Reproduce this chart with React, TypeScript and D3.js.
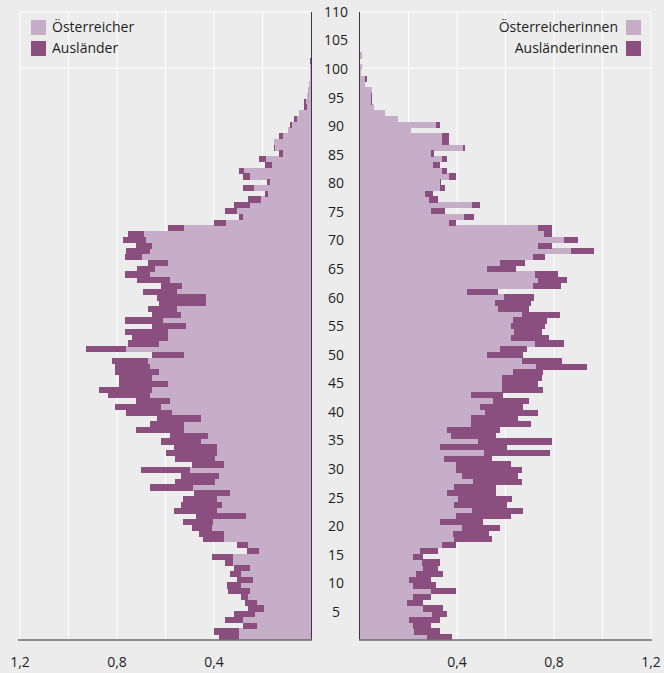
import { useEffect, useRef } from 'react';
import * as d3 from 'd3';

// share of population in %, by single year of age (index = age)
const maleAut = [
  0.297, 0.297, 0.223, 0.282, 0.231, 0.192, 0.223, 0.260, 0.252, 0.289,
  0.238, 0.289, 0.252, 0.320, 0.320, 0.214, 0.261, 0.359, 0.359, 0.410,
  0.405, 0.268, 0.389, 0.366, 0.389, 0.334, 0.485, 0.396, 0.381, 0.500,
  0.359, 0.396, 0.388, 0.388, 0.455, 0.426, 0.522, 0.524, 0.455, 0.575,
  0.620, 0.581, 0.664, 0.657, 0.590, 0.657, 0.627, 0.664, 0.672, 0.524,
  0.763, 0.627, 0.590, 0.590, 0.515, 0.612, 0.537, 0.553, 0.433, 0.433,
  0.553, 0.531, 0.583, 0.664, 0.642, 0.590, 0.696, 0.665, 0.657, 0.682,
  0.687, 0.522, 0.351, 0.282, 0.305, 0.252, 0.206, 0.179, 0.236, 0.169,
  0.252, 0.275, 0.162, 0.187, 0.117, 0.147, 0.153, 0.117, 0.093, 0.078,
  0.056, 0.049, 0.018, 0.020, 0.018, 0.011, 0.007, 0.004, 0.003, 0.003,
  0.000,
];
const maleTotal = [
  0.379, 0.400, 0.280, 0.356, 0.319, 0.258, 0.272, 0.289, 0.341, 0.348,
  0.304, 0.334, 0.318, 0.356, 0.408, 0.265, 0.304, 0.447, 0.462, 0.491,
  0.529, 0.476, 0.566, 0.537, 0.529, 0.484, 0.664, 0.559, 0.536, 0.701,
  0.491, 0.559, 0.597, 0.566, 0.619, 0.581, 0.723, 0.664, 0.635, 0.762,
  0.807, 0.723, 0.836, 0.874, 0.792, 0.792, 0.807, 0.807, 0.821, 0.656,
  0.928, 0.753, 0.740, 0.768, 0.657, 0.768, 0.657, 0.672, 0.627, 0.634,
  0.694, 0.620, 0.716, 0.768, 0.716, 0.672, 0.768, 0.762, 0.723, 0.777,
  0.753, 0.590, 0.400, 0.297, 0.356, 0.319, 0.258, 0.191, 0.280, 0.183,
  0.280, 0.297, 0.191, 0.214, 0.132, 0.154, 0.153, 0.132, 0.093, 0.087,
  0.070, 0.049, 0.027, 0.027, 0.018, 0.011, 0.007, 0.004, 0.003, 0.003,
  0.005,
];
const femaleAut = [
  0.276, 0.224, 0.217, 0.202, 0.298, 0.261, 0.195, 0.217, 0.291, 0.217,
  0.202, 0.232, 0.261, 0.254, 0.217, 0.247, 0.337, 0.389, 0.382, 0.419,
  0.330, 0.396, 0.463, 0.389, 0.404, 0.359, 0.389, 0.467, 0.419, 0.397,
  0.397, 0.345, 0.510, 0.331, 0.487, 0.375, 0.360, 0.458, 0.458, 0.517,
  0.495, 0.547, 0.458, 0.584, 0.584, 0.584, 0.630, 0.727, 0.667, 0.524,
  0.577, 0.722, 0.621, 0.636, 0.621, 0.630, 0.667, 0.570, 0.555, 0.592,
  0.443, 0.712, 0.734, 0.722, 0.525, 0.577, 0.712, 0.870, 0.734, 0.840,
  0.757, 0.734, 0.367, 0.427, 0.293, 0.463, 0.285, 0.269, 0.330, 0.330,
  0.367, 0.337, 0.300, 0.337, 0.293, 0.426, 0.337, 0.337, 0.209, 0.313,
  0.155, 0.103, 0.058, 0.044, 0.044, 0.048, 0.021, 0.021, 0.004, 0.010,
  0.000, 0.008,
];
const femaleTotal = [
  0.381, 0.329, 0.291, 0.329, 0.359, 0.344, 0.261, 0.291, 0.396, 0.313,
  0.291, 0.344, 0.322, 0.330, 0.261, 0.322, 0.396, 0.546, 0.531, 0.576,
  0.509, 0.621, 0.674, 0.606, 0.628, 0.561, 0.561, 0.667, 0.652, 0.667,
  0.621, 0.546, 0.785, 0.606, 0.793, 0.561, 0.576, 0.704, 0.652, 0.734,
  0.674, 0.696, 0.591, 0.756, 0.734, 0.749, 0.756, 0.936, 0.832, 0.674,
  0.689, 0.840, 0.779, 0.749, 0.764, 0.771, 0.823, 0.696, 0.704, 0.719,
  0.569, 0.830, 0.854, 0.815, 0.645, 0.682, 0.764, 0.966, 0.792, 0.899,
  0.792, 0.792, 0.396, 0.471, 0.351, 0.493, 0.322, 0.300, 0.352, 0.335,
  0.396, 0.359, 0.329, 0.359, 0.307, 0.434, 0.366, 0.366, 0.209, 0.329,
  0.155, 0.103, 0.058, 0.051, 0.051, 0.048, 0.021, 0.029, 0.004, 0.010,
  0.000, 0.008,
];

const ageTicks = d3.range(5, 111, 5);
const valueTicks = [0.4, 0.8, 1.2];
const gridTicks = [0.2, 0.4, 0.6, 0.8, 1.0, 1.2];
const legendLeft = ['Österreicher', 'Ausländer'];
const legendRight = ['Österreicherinnen', 'Ausländerinnen'];

const W = 664;
const H = 673;
const LIGHT = '#c7aec8';
const DARK = '#8b4f7f';
const BG = '#ececec';
const FONT = '"Open Sans", "DejaVu Sans", sans-serif';

export default function App() {
  const svgRef = useRef<SVGSVGElement | null>(null);

  useEffect(() => {
    document.body.style.margin = '0';
    const svg = d3.select(svgRef.current);
    svg.selectAll('*').remove();

    const top = 12;
    const bottom = 640;
    const xL = d3.scaleLinear().domain([0, 1.2]).range([311, 20]);
    const xR = d3.scaleLinear().domain([0, 1.2]).range([360, 651]);
    const yBar = d3.scaleLinear().domain([0, 100]).range([bottom, 64]);
    const yLab = d3.scaleLinear().domain([0, 110]).range([640.5, 12]);

    svg.append('rect').attr('width', W).attr('height', H).attr('fill', BG);

    // grid
    const grid = svg.append('g').attr('stroke', '#fff').attr('stroke-width', 1);
    gridTicks.forEach(t => {
      grid.append('line').attr('x1', xL(t)).attr('x2', xL(t)).attr('y1', top).attr('y2', bottom);
      grid.append('line').attr('x1', xR(t)).attr('x2', xR(t)).attr('y1', top).attr('y2', bottom);
    });
    [top, yLab(100) - 1].forEach(y => {
      grid.append('line').attr('x1', xL(1.2)).attr('x2', xL(0)).attr('y1', y).attr('y2', y);
      grid.append('line').attr('x1', xR(0)).attr('x2', xR(1.2)).attr('y1', y).attr('y2', y);
    });

    const barH = (a: number) => yBar(a) - yBar(a + 1) + 0.4;

    // men
    const men = svg.append('g').attr('shape-rendering', 'crispEdges');
    men.selectAll('.ma')
      .data(maleAut)
      .join('rect')
      .attr('x', d => xL(d))
      .attr('y', (d, i) => yBar(i + 1))
      .attr('width', d => xL(0) - xL(d))
      .attr('height', (d, i) => barH(i))
      .attr('fill', LIGHT);
    men.selectAll('.mf')
      .data(maleTotal)
      .join('rect')
      .attr('x', d => xL(d))
      .attr('y', (d, i) => yBar(i + 1))
      .attr('width', (d, i) => Math.max(0, xL(maleAut[i]) - xL(d)))
      .attr('height', (d, i) => barH(i))
      .attr('fill', DARK);

    // women
    const women = svg.append('g').attr('shape-rendering', 'crispEdges');
    women.selectAll('.fa')
      .data(femaleAut)
      .join('rect')
      .attr('x', xR(0))
      .attr('y', (d, i) => yBar(i + 1))
      .attr('width', d => xR(d) - xR(0))
      .attr('height', (d, i) => barH(i))
      .attr('fill', LIGHT);
    women.selectAll('.ff')
      .data(femaleTotal)
      .join('rect')
      .attr('x', (d, i) => xR(femaleAut[i]))
      .attr('y', (d, i) => yBar(i + 1))
      .attr('width', (d, i) => Math.max(0, xR(d) - xR(femaleAut[i])))
      .attr('height', (d, i) => barH(i))
      .attr('fill', DARK);

    // axes
    svg.append('line').attr('x1', xL(0) + 0.5).attr('x2', xL(0) + 0.5).attr('y1', top).attr('y2', bottom)
      .attr('stroke', '#3a3a3a').attr('stroke-width', 1);
    svg.append('line').attr('x1', xR(0) - 0.5).attr('x2', xR(0) - 0.5).attr('y1', top).attr('y2', bottom)
      .attr('stroke', '#3a3a3a').attr('stroke-width', 1);
    svg.append('line').attr('x1', 18).attr('x2', xL(0) + 1).attr('y1', bottom).attr('y2', bottom)
      .attr('stroke', '#6e6e6e').attr('stroke-width', 1.5);
    svg.append('line').attr('x1', xR(0) - 1).attr('x2', 652).attr('y1', bottom).attr('y2', bottom)
      .attr('stroke', '#6e6e6e').attr('stroke-width', 1.5);

    const fmt = (v: number) => d3.format('.1f')(v).replace('.', ',');
    const txt = svg.append('g').attr('font-family', FONT).attr('font-size', 14).attr('fill', '#1e1e1e');

    txt.selectAll('.age')
      .data(ageTicks)
      .join('text')
      .attr('x', 336)
      .attr('y', d => yLab(d))
      .attr('dy', '0.35em')
      .attr('text-anchor', 'middle')
      .text(d => d);

    valueTicks.forEach(t => {
      txt.append('text').attr('x', xL(t)).attr('y', 667).attr('text-anchor', 'middle').text(fmt(t));
      txt.append('text').attr('x', xR(t)).attr('y', 667).attr('text-anchor', 'middle').text(fmt(t));
    });

    // legends
    legendLeft.forEach((name, i) => {
      svg.append('rect').attr('x', 31).attr('y', 20 + i * 21).attr('width', 15).attr('height', 15)
        .attr('fill', i === 0 ? LIGHT : DARK);
      txt.append('text').attr('x', 52).attr('y', 27.5 + i * 21).attr('dy', '0.35em').text(name);
    });
    legendRight.forEach((name, i) => {
      svg.append('rect').attr('x', 626).attr('y', 20 + i * 21).attr('width', 15).attr('height', 15)
        .attr('fill', i === 0 ? LIGHT : DARK);
      txt.append('text').attr('x', 618).attr('y', 27.5 + i * 21).attr('dy', '0.35em')
        .attr('text-anchor', 'end').text(name);
    });
  }, []);

  return (
    <div style={{ position: 'absolute', left: 0, top: 0 }}>
      <svg ref={svgRef} width={W} height={H} style={{ display: 'block' }}></svg>
    </div>
  );
}
